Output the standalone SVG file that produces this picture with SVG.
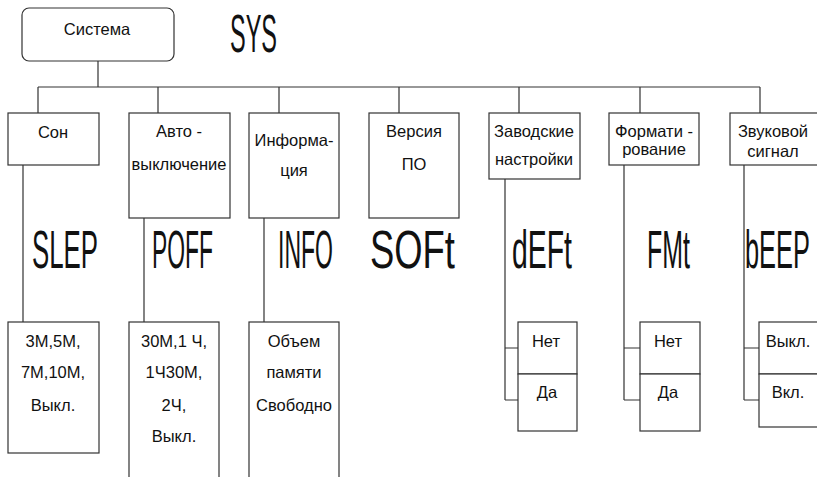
<svg xmlns="http://www.w3.org/2000/svg" width="817" height="477" viewBox="0 0 817 477">
<style>
.b{fill:#fff;stroke:#333;stroke-width:1.2}
.c{fill:none;stroke:#333;stroke-width:1.2}
.t{font-family:"Liberation Sans",Arial,sans-serif;font-size:16.5px;fill:#111;text-anchor:middle}
.s{font-family:"Liberation Sans",Arial,sans-serif;font-size:54px;fill:#111}
</style>
<rect width="817" height="477" fill="#fff"/>
<g id="connectors">
<path class="c" d="M98 61V87M38 87H760M38 87V113M158 87V113M279 87V113M399 87V113M519 87V113M640 87V113M760 87V113"/>
<path class="c" d="M23 165V322M144 218V322M264 218V322"/>
<path class="c" d="M505 179V400M505 348H518M505 400H518"/>
<path class="c" d="M624 165V400M624 348H640M624 400H640"/>
<path class="c" d="M744 165V400M744 348H759M744 400H759"/>
</g>
<g id="root"><rect class="b" x="22" y="8" width="152" height="53" rx="7"/><text class="t" x="97" y="35">Система</text></g>
<text class="s" transform="translate(230 52) scale(0.435 1)">SYS</text>
<g id="son"><rect class="b" x="8" y="113" width="91" height="52"/><text class="t" x="53" y="138">Сон</text></g>
<g id="avto"><rect class="b" x="129" y="113" width="101" height="105"/><text class="t" x="179" y="137">Авто -</text><text class="t" x="179" y="170">выключение</text></g>
<g id="info"><rect class="b" x="249" y="113" width="90" height="105"/><text class="t" x="294" y="146">Информа-</text><text class="t" x="294" y="176">ция</text></g>
<g id="versia"><rect class="b" x="369" y="113" width="90" height="105"/><text class="t" x="414" y="137">Версия</text><text class="t" x="414" y="170">ПО</text></g>
<g id="zavod"><rect class="b" x="489" y="113" width="91" height="66"/><text class="t" x="534" y="137">Заводские</text><text class="t" x="534" y="165">настройки</text></g>
<g id="format"><rect class="b" x="609" y="113" width="90" height="52"/><text class="t" x="654" y="137">Формати -</text><text class="t" x="654" y="155">рование</text></g>
<g id="zvuk"><rect class="b" x="730" y="113" width="100" height="52"/><text class="t" x="773" y="137">Звуковой</text><text class="t" x="773" y="157">сигнал</text></g>
<text class="s" transform="translate(32 268) scale(0.478 1)">SLEP</text>
<text class="s" transform="translate(152 268) scale(0.424 1)">POFF</text>
<text class="s" transform="translate(278 268) scale(0.426 1)">INFO</text>
<text class="s" transform="translate(370 268) scale(0.674 1)">SOFt</text>
<text class="s" transform="translate(512 268) scale(0.526 1)">dEFt</text>
<text class="s" transform="translate(647 268) scale(0.462 1)">FMt</text>
<text class="s" transform="translate(745 268) scale(0.47 1)">bEEP</text>
<g id="son-opts"><rect class="b" x="8" y="322" width="91" height="131"/><text class="t" x="53" y="347">3М,5М,</text><text class="t" x="53" y="378">7М,10М,</text><text class="t" x="53" y="411">Выкл.</text></g>
<g id="avto-opts"><rect class="b" x="129" y="322" width="90" height="170"/><text class="t" x="174" y="347">30М,1 Ч,</text><text class="t" x="174" y="378">1Ч30М,</text><text class="t" x="174" y="411">2Ч,</text><text class="t" x="174" y="442">Выкл.</text></g>
<g id="info-opts"><rect class="b" x="249" y="322" width="90" height="170"/><text class="t" x="294" y="347">Объем</text><text class="t" x="294" y="378">памяти</text><text class="t" x="294" y="411">Свободно</text></g>
<g id="zavod-opts"><rect class="b" x="518" y="322" width="59" height="52"/><rect class="b" x="518" y="374" width="59" height="57"/><text class="t" x="546" y="347">Нет</text><text class="t" x="547" y="398">Да</text></g>
<g id="format-opts"><rect class="b" x="640" y="322" width="60" height="52"/><rect class="b" x="640" y="374" width="60" height="57"/><text class="t" x="668" y="347">Нет</text><text class="t" x="668" y="398">Да</text></g>
<g id="zvuk-opts"><rect class="b" x="759" y="322" width="70" height="52"/><rect class="b" x="759" y="374" width="70" height="53"/><text class="t" x="788" y="347">Выкл.</text><text class="t" x="788" y="398">Вкл.</text></g>
</svg>
